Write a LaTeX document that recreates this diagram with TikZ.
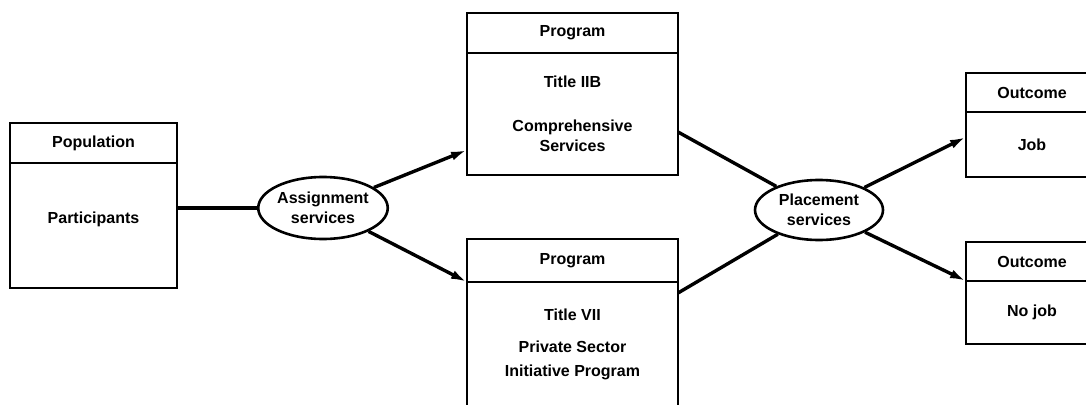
\documentclass[tikz,border=0pt]{standalone}
\usepackage{fontspec}
\setmainfont{Liberation Sans}
\usetikzlibrary{positioning,arrows.meta,shapes.geometric}
\tikzset{
	headbox/.style={draw,line width=2.6pt,outer sep=0pt,inner sep=0pt,minimum height=40pt},
	bodybox/.style={draw,line width=2.6pt,outer sep=0pt,inner sep=0pt,align=center},
	oval/.style={ellipse,draw,line width=2.6pt,inner xsep=0pt,inner ysep=4pt,align=center,minimum width=127pt,minimum height=62pt},
	link/.style={line width=3.4pt},
	flow/.style={link,-{Latex[length=16pt,width=9pt]}}
}
\begin{document}
\begin{tikzpicture}[x=1pt,y=-1pt,font=\fontsize{16}{20}\selectfont\bfseries]
	\useasboundingbox (0,0) rectangle (1086,404);
	\clip (0,0) rectangle (1086,404);
	% Population
	\node[headbox,minimum width=167pt] (popH) at (93.5,143) {Population};
	\node[bodybox,minimum width=167pt,minimum height=125pt,text depth=16pt,below=0pt of popH] (popB) {Participants};
	% Programs
	\node[headbox,minimum width=211pt] (ptH) at (572.5,33) {Program};
	\node[bodybox,minimum width=211pt,minimum height=122pt,below=0pt of ptH] (ptB) {Title IIB\\[24pt]Comprehensive\\Services};
	\node[headbox,minimum width=211pt,minimum height=43pt] (pbH) at (572.5,260.5) {Program};
	\node[bodybox,minimum width=211pt,minimum height=124pt,below=0pt of pbH] (pbB) {Title VII\\[12pt]Private Sector\\[4pt]Initiative Program};
	% Outcomes
	\node[headbox,minimum width=132pt,minimum height=39pt] (jobH) at (1032,92.5) {Outcome};
	\node[bodybox,minimum width=132pt,minimum height=65pt,below=0pt of jobH] (jobB) {Job};
	\node[headbox,minimum width=132pt,minimum height=39pt] (nojobH) at (1032,261.5) {Outcome};
	\node[bodybox,minimum width=132pt,minimum height=63pt,below=0pt of nojobH] (nojobB) {No job};
	% Services
	\node[oval] (assign) at (323,208) {Assignment\\services};
	\node[oval,minimum width=128pt,minimum height=60pt] (place) at (819,210) {Placement\\services};
	% Connectors
	\draw[link] (popB.east |- assign) -- (assign);
	\draw[flow] (assign) -- ([yshift=25pt]ptB.south west);
	\draw[flow] (assign) -- (pbH.south west);
	\draw[link] ([yshift=-18pt]ptB.east) -- (place);
	\draw[link] ([yshift=-11pt]pbB.north east) -- (place);
	\draw[flow] (place) -- ([yshift=-25pt]jobB.north west);
	\draw[flow] (place) -- (nojobH.south west);
\end{tikzpicture}
\end{document}
